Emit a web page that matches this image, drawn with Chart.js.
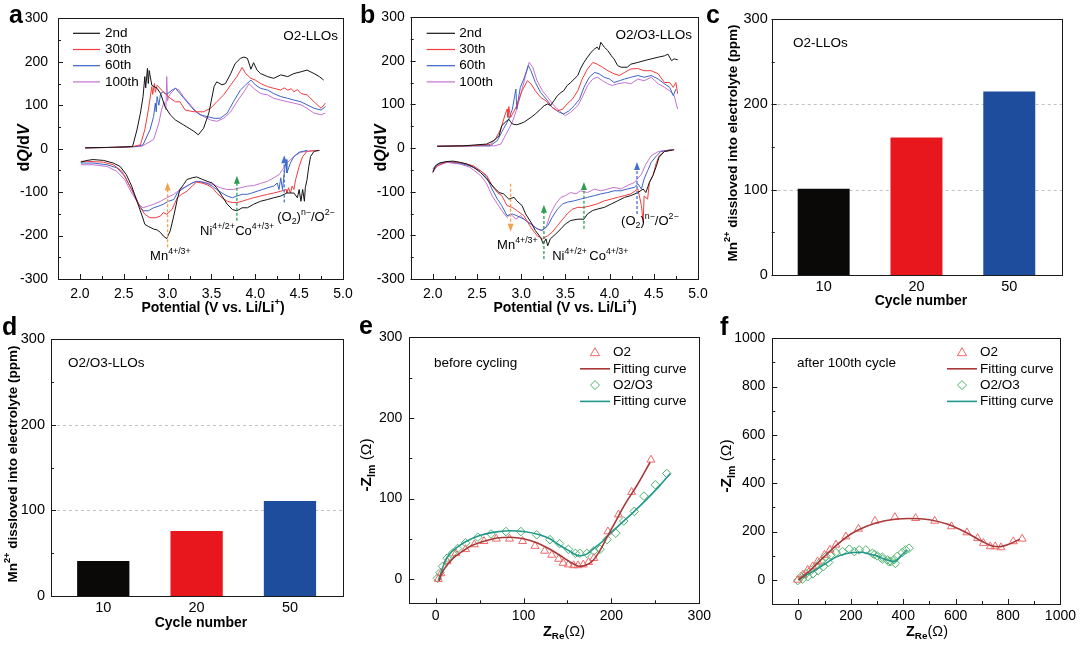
<!DOCTYPE html>
<html><head><meta charset="utf-8">
<script src="https://cdn.jsdelivr.net/npm/chart.js@4.4.1/dist/chart.umd.min.js"></script>
<style>
html,body{margin:0;padding:0;background:#fff;}
#wrap{position:relative;width:1080px;height:647px;overflow:hidden;background:#fff;}
#wrap canvas{position:absolute;left:0;top:0;width:1080px;height:647px;}
</style></head><body><div id="wrap">
<canvas id="pa" width="1080" height="647"></canvas>
<canvas id="pb" width="1080" height="647"></canvas>
<canvas id="pc" width="1080" height="647"></canvas>
<canvas id="pd" width="1080" height="647"></canvas>
<canvas id="pe" width="1080" height="647"></canvas>
<canvas id="pf" width="1080" height="647"></canvas>
</div>
<script>
// ---------------- DATA ----------------
const seriesNames = ['2nd', '30th', '60th', '100th'];
const potTicks = [2.0, 2.5, 3.0, 3.5, 4.0, 4.5, 5.0];
const dqTicks = [-300, -200, -100, 0, 100, 200, 300];

// panel a (O2-LLOs) : [potential V, dQ/dV]
const aChg2nd = [[2.06,2],[2.30,3],[2.50,4],[2.60,5],[2.65,43],[2.69,82],[2.72,120],[2.74,166],[2.75,140],[2.77,185],[2.78,150],[2.79,180],[2.82,146],[2.88,139],[2.92,127],[2.97,97],[3.03,78],[3.09,66],[3.18,55],[3.30,40],[3.35,32],[3.41,47],[3.47,82],[3.53,143],[3.56,154],[3.62,147],[3.66,150],[3.72,173],[3.77,196],[3.83,208],[3.87,211],[3.91,208],[3.95,183],[3.98,198],[4.02,181],[4.06,173],[4.14,166],[4.21,162],[4.29,170],[4.37,166],[4.44,173],[4.52,177],[4.59,181],[4.67,173],[4.73,166],[4.78,158]];
const aChg30th = [[2.06,2],[2.40,3],[2.60,5],[2.69,9],[2.74,44],[2.78,89],[2.82,143],[2.83,125],[2.85,150],[2.86,130],[2.88,146],[2.95,131],[3.03,116],[3.09,108],[3.14,108],[3.20,89],[3.30,85],[3.41,85],[3.49,93],[3.56,108],[3.64,124],[3.72,147],[3.79,166],[3.85,187],[3.89,173],[3.95,162],[4.00,158],[4.06,150],[4.14,143],[4.21,139],[4.29,135],[4.33,140],[4.37,135],[4.41,138],[4.44,131],[4.48,136],[4.52,127],[4.59,124],[4.67,108],[4.75,93],[4.80,105]];
const aChg60th = [[2.06,2],[2.40,3],[2.65,5],[2.72,9],[2.80,44],[2.84,74],[2.86,105],[2.87,85],[2.88,120],[2.90,100],[2.92,127],[2.95,131],[2.99,125],[3.05,135],[3.09,139],[3.14,127],[3.22,108],[3.30,89],[3.37,78],[3.45,74],[3.53,70],[3.60,70],[3.68,82],[3.75,108],[3.83,135],[3.89,147],[3.95,158],[4.00,147],[4.06,139],[4.14,135],[4.21,127],[4.29,120],[4.37,116],[4.44,112],[4.52,108],[4.59,101],[4.67,93],[4.75,89],[4.80,97]];
const aChg100th = [[2.06,2],[2.40,3],[2.70,5],[2.84,21],[2.90,59],[2.93,89],[2.96,108],[2.98,90],[2.99,166],[3.00,110],[3.01,120],[3.05,131],[3.09,139],[3.13,135],[3.18,120],[3.26,101],[3.33,85],[3.41,74],[3.49,66],[3.56,63],[3.64,70],[3.72,85],[3.79,108],[3.87,131],[3.93,150],[3.98,139],[4.06,127],[4.14,124],[4.21,116],[4.29,112],[4.37,108],[4.44,105],[4.52,101],[4.59,93],[4.67,82],[4.75,78],[4.80,82]];
const aDis2nd = [[2.01,-31],[2.08,-27],[2.15,-25],[2.27,-27],[2.38,-33],[2.46,-41],[2.53,-60],[2.59,-86],[2.65,-121],[2.71,-155],[2.74,-174],[2.78,-179],[2.84,-185],[2.88,-187],[2.92,-193],[2.95,-201],[2.99,-207],[3.03,-189],[3.07,-155],[3.11,-117],[3.14,-94],[3.18,-83],[3.22,-71],[3.28,-67],[3.33,-65],[3.39,-70],[3.45,-75],[3.51,-79],[3.56,-90],[3.62,-109],[3.68,-128],[3.74,-140],[3.79,-143],[3.85,-136],[3.91,-136],[3.98,-128],[4.06,-121],[4.14,-117],[4.21,-113],[4.29,-109],[4.36,-102],[4.44,-102],[4.48,-113],[4.50,-94],[4.52,-121],[4.54,-94],[4.56,-121],[4.57,-90],[4.59,-71],[4.61,-41],[4.63,-18],[4.67,-6],[4.73,-4]];
const aDis30th = [[2.01,-29],[2.08,-29],[2.27,-31],[2.38,-37],[2.48,-52],[2.55,-79],[2.63,-109],[2.69,-136],[2.74,-151],[2.80,-159],[2.86,-159],[2.92,-155],[2.95,-147],[2.99,-151],[3.05,-140],[3.11,-113],[3.16,-105],[3.22,-98],[3.28,-86],[3.33,-77],[3.39,-79],[3.45,-83],[3.51,-90],[3.56,-102],[3.62,-113],[3.68,-121],[3.74,-124],[3.79,-124],[3.85,-121],[3.91,-117],[3.98,-113],[4.06,-109],[4.14,-105],[4.21,-102],[4.29,-98],[4.35,-94],[4.36,-102],[4.38,-90],[4.40,-102],[4.42,-86],[4.44,-94],[4.46,-71],[4.50,-41],[4.54,-18],[4.59,-6],[4.73,-4]];
const aDis60th = [[2.01,-33],[2.15,-33],[2.31,-37],[2.42,-44],[2.51,-63],[2.59,-94],[2.67,-128],[2.72,-143],[2.78,-143],[2.84,-136],[2.90,-132],[2.95,-128],[3.01,-121],[3.07,-117],[3.11,-102],[3.16,-94],[3.22,-86],[3.28,-79],[3.33,-75],[3.39,-77],[3.45,-80],[3.51,-86],[3.56,-94],[3.62,-102],[3.68,-109],[3.74,-113],[3.79,-109],[3.85,-105],[3.91,-105],[3.96,-102],[4.02,-98],[4.08,-94],[4.14,-90],[4.21,-86],[4.25,-79],[4.27,-94],[4.29,-67],[4.31,-94],[4.33,-56],[4.35,-25],[4.36,-56],[4.40,-33],[4.44,-18],[4.50,-8],[4.59,-4]];
const aDis100th = [[2.01,-37],[2.15,-37],[2.31,-41],[2.42,-52],[2.51,-71],[2.59,-102],[2.67,-128],[2.72,-136],[2.78,-132],[2.84,-128],[2.92,-121],[2.99,-113],[3.07,-105],[3.14,-94],[3.22,-86],[3.30,-77],[3.37,-75],[3.45,-79],[3.53,-83],[3.60,-90],[3.68,-94],[3.75,-94],[3.83,-90],[3.91,-86],[3.98,-85],[4.06,-80],[4.14,-75],[4.21,-67],[4.27,-60],[4.31,-48],[4.36,-33],[4.44,-18],[4.52,-8],[4.67,-4]];

// panel b (O2/O3-LLOs)
const bChg2nd = [[2.05,4],[2.35,5],[2.61,9],[2.69,17],[2.75,28],[2.78,51],[2.82,59],[2.86,66],[2.88,60],[2.90,55],[2.95,53],[3.03,59],[3.11,70],[3.16,78],[3.22,89],[3.26,97],[3.30,101],[3.33,97],[3.37,108],[3.41,120],[3.45,127],[3.48,131],[3.52,143],[3.56,150],[3.60,158],[3.64,166],[3.67,181],[3.71,196],[3.75,208],[3.79,219],[3.83,227],[3.86,231],[3.88,225],[3.90,242],[3.94,231],[3.98,223],[4.02,211],[4.05,204],[4.09,189],[4.13,185],[4.20,185],[4.24,192],[4.32,196],[4.39,200],[4.47,204],[4.55,208],[4.62,211],[4.66,215],[4.70,200],[4.73,204],[4.77,202]];
const bChg30th = [[2.05,4],[2.40,5],[2.65,8],[2.71,21],[2.77,44],[2.82,78],[2.84,89],[2.85,70],[2.86,95],[2.88,70],[2.92,85],[2.95,97],[3.01,131],[3.07,154],[3.11,147],[3.16,131],[3.22,116],[3.30,105],[3.35,93],[3.41,85],[3.47,89],[3.52,101],[3.58,112],[3.64,131],[3.69,158],[3.75,181],[3.81,196],[3.86,192],[3.92,185],[3.98,177],[4.05,170],[4.11,166],[4.17,173],[4.24,181],[4.32,182],[4.39,177],[4.47,177],[4.55,170],[4.62,150],[4.68,150],[4.72,139],[4.75,150],[4.77,124]];
const bChg60th = [[2.05,4],[2.45,5],[2.65,5],[2.73,17],[2.80,44],[2.86,66],[2.90,89],[2.94,135],[2.95,89],[2.99,139],[3.03,158],[3.08,189],[3.11,177],[3.16,150],[3.22,127],[3.30,108],[3.35,93],[3.43,82],[3.48,78],[3.54,85],[3.60,97],[3.66,112],[3.71,139],[3.77,162],[3.83,173],[3.88,170],[3.94,162],[4.00,158],[4.05,150],[4.11,154],[4.17,158],[4.24,162],[4.32,166],[4.39,162],[4.47,166],[4.55,158],[4.62,147],[4.68,139],[4.72,120],[4.75,135]];
const bChg100th = [[2.05,4],[2.50,5],[2.70,5],[2.77,9],[2.84,36],[2.90,59],[2.95,89],[3.01,135],[3.05,166],[3.09,196],[3.13,185],[3.18,154],[3.24,131],[3.30,116],[3.37,97],[3.45,82],[3.50,74],[3.56,82],[3.64,97],[3.69,116],[3.75,143],[3.81,158],[3.86,162],[3.92,154],[3.98,147],[4.03,143],[4.09,147],[4.17,150],[4.24,147],[4.32,158],[4.39,154],[4.47,162],[4.55,147],[4.62,139],[4.68,131],[4.73,120],[4.77,89]];
const bDis2nd = [[2.00,-56],[2.03,-41],[2.08,-34],[2.16,-31],[2.23,-30],[2.31,-33],[2.39,-37],[2.46,-44],[2.54,-56],[2.61,-71],[2.69,-90],[2.75,-102],[2.80,-105],[2.86,-117],[2.92,-113],[2.95,-121],[3.01,-132],[3.05,-151],[3.11,-170],[3.16,-189],[3.22,-205],[3.25,-220],[3.28,-208],[3.30,-224],[3.33,-208],[3.39,-197],[3.45,-185],[3.50,-174],[3.56,-166],[3.64,-163],[3.71,-163],[3.75,-151],[3.81,-143],[3.86,-140],[3.94,-136],[4.02,-128],[4.09,-121],[4.17,-113],[4.24,-109],[4.32,-102],[4.38,-94],[4.41,-102],[4.45,-79],[4.49,-63],[4.53,-41],[4.56,-21],[4.62,-8],[4.73,-4]];
const bDis30th = [[2.00,-52],[2.05,-41],[2.16,-31],[2.31,-33],[2.39,-37],[2.46,-41],[2.54,-52],[2.61,-63],[2.67,-86],[2.73,-102],[2.78,-109],[2.84,-132],[2.90,-136],[2.95,-143],[3.03,-155],[3.11,-182],[3.18,-201],[3.24,-208],[3.30,-201],[3.35,-193],[3.41,-178],[3.47,-163],[3.52,-151],[3.58,-140],[3.64,-136],[3.71,-136],[3.79,-132],[3.86,-128],[3.94,-121],[4.02,-117],[4.09,-113],[4.17,-109],[4.24,-105],[4.32,-94],[4.36,-132],[4.38,-170],[4.39,-110],[4.43,-117],[4.45,-79],[4.49,-63],[4.53,-33],[4.56,-18],[4.62,-8],[4.73,-4]];
const bDis60th = [[2.00,-48],[2.05,-37],[2.16,-31],[2.31,-35],[2.42,-41],[2.54,-52],[2.61,-67],[2.67,-94],[2.73,-117],[2.78,-132],[2.84,-155],[2.90,-151],[2.95,-155],[3.03,-163],[3.11,-174],[3.18,-185],[3.24,-189],[3.30,-178],[3.35,-159],[3.41,-140],[3.47,-128],[3.52,-124],[3.60,-121],[3.67,-117],[3.75,-113],[3.83,-109],[3.90,-105],[3.98,-102],[4.05,-98],[4.13,-98],[4.20,-94],[4.28,-90],[4.32,-82],[4.36,-94],[4.39,-71],[4.43,-52],[4.47,-33],[4.53,-18],[4.58,-8],[4.70,-4]];
const bDis100th = [[2.00,-56],[2.05,-41],[2.16,-33],[2.31,-37],[2.42,-44],[2.54,-63],[2.61,-82],[2.67,-109],[2.73,-128],[2.78,-143],[2.84,-159],[2.88,-151],[2.94,-163],[2.99,-155],[3.05,-166],[3.11,-174],[3.16,-182],[3.22,-189],[3.28,-182],[3.33,-151],[3.39,-128],[3.45,-113],[3.50,-109],[3.56,-102],[3.62,-105],[3.67,-98],[3.75,-102],[3.83,-94],[3.90,-98],[3.98,-94],[4.05,-90],[4.13,-94],[4.20,-86],[4.28,-79],[4.36,-60],[4.41,-37],[4.47,-18],[4.55,-8],[4.70,-4]];

// panels c, d : Mn2+ dissolved (ppm)
const cycles = ['10', '20', '50'];
const mnTicks = [0, 100, 200, 300];
const cMnO2 = [101, 161, 215];
const dMnO2O3 = [41, 76, 111];

// panels e, f : EIS Nyquist [Z_Re, -Z_Im]
const eisNames = ['O2', 'Fitting curve', 'O2/O3', 'Fitting curve'];
const eTicks = [0, 100, 200, 300];
const fTicks = [0, 200, 400, 600, 800, 1000];
const eO2Pts = [[3,0],[6,7],[13,22],[23,32],[34,37],[44,43],[55,47],[69,50],[84,50],[99,47],[113,41],[124,35],[132,30],[140,25],[145,20],[151,18],[157,17],[162,17],[168,18],[174,21],[180,26],[196,59],[208,80],[223,108],[245,148]];
const eO2Fit = [[4,-2],[6,5],[10,13],[20,26],[30,34],[40,41],[55,47],[70,51],[85,52],[100,50],[115,45],[130,37],[145,27],[155,20],[163,16],[170,17],[177,21],[185,32],[195,52],[205,72],[215,92],[230,118],[244,145]];
const eO3Pts = [[2,1],[5,8],[8,16],[13,26],[19,32],[25,38],[34,45],[48,52],[63,56],[80,59],[97,59],[115,55],[130,49],[141,44],[151,37],[159,32],[164,32],[172,32],[180,35],[187,37],[195,49],[205,57],[214,72],[226,84],[237,103],[250,117],[263,131]];
const eO3Fit = [[3,-2],[6,8],[10,20],[15,30],[25,40],[35,47],[50,54],[65,58],[84,60],[100,59],[118,55],[130,50],[141,42],[152,35],[163,29],[172,31],[180,38],[190,47],[199,57],[212,70],[226,84],[240,99],[255,116],[267,131]];
const fO2Pts = [[-3,0],[17,21],[35,41],[54,55],[73,76],[99,103],[120,124],[143,145],[181,179],[229,211],[292,244],[368,259],[447,255],[520,244],[584,221],[643,196],[684,172],[706,152],[732,138],[751,138],[773,134],[820,159],[854,170]];
const fO2Fit = [[0,0],[50,45],[100,98],[150,148],[200,190],[260,222],[330,245],[420,254],[500,249],[570,230],[640,196],[700,160],[740,140],[765,137],[800,146],[845,168]];
const fO3Pts = [[-3,-3],[10,14],[29,25],[48,39],[67,55],[86,76],[105,97],[124,103],[143,113],[168,117],[194,127],[213,117],[232,124],[257,124],[282,110],[301,99],[320,94],[339,83],[352,76],[365,83],[377,97],[396,113],[409,124],[422,131],[15,3],[35,13],[55,25],[75,38],[95,55],[115,72],[290,105],[320,86],[345,75],[370,68]];
const fO3Fit = [[0,0],[30,20],[60,38],[100,65],[143,94],[180,108],[207,113],[240,114],[270,107],[300,99],[320,89],[345,80],[365,76],[390,98],[415,124]];

// annotation arrows [potential, from dQ/dV, to dQ/dV]
const aArrows = [[3.00,-227,-78],[3.79,-166,-62],[4.33,-124,-15]];
const bArrows = [[2.88,-82,-192],[3.257,-254,-130],[3.71,-185,-78],[4.31,-151,-32]];

// ---------------- STYLE / HELPERS ----------------
const FAM = "'Liberation Sans', Arial, Helvetica, sans-serif";
Chart.defaults.font.family = FAM;
Chart.defaults.font.size = 14;
Chart.defaults.color = '#000';
const cycleColors = ['#141414', '#f23c3c', '#3b63c7', '#c472cf'];
const barColors = ['#0b0808', '#e8161d', '#1f4d9e'];
const ORANGE = '#f5a14c', GREEN = '#2f9c4f', BLUE = '#4272d2';
const O2C = '#f06868', O2FIT = '#a93838', O3C = '#4fb46c', O3FIT = '#21978b';

function rich(ctx, segs, x, y, o) {
  const size = o.size || 13;
  const parts = segs.map(([t, st]) => {
    st = st || '';
    const small = st.includes('^') || st.includes('_');
    const fs = small ? size * 0.68 : size;
    const bold = st.includes('n') ? false : (st.includes('b') || o.bold);
    const font = (st.includes('i') ? 'italic ' : '') + (bold ? 'bold ' : '') + fs.toFixed(1) + 'px ' + FAM;
    ctx.font = font;
    const dy = st.includes('^') ? -size * 0.38 : st.includes('_') ? size * 0.32 : 0;
    return { t, font, dy, w: ctx.measureText(t).width };
  });
  const total = parts.reduce((s, p) => s + p.w, 0);
  ctx.save();
  ctx.translate(x, y);
  if (o.rot) ctx.rotate(o.rot * Math.PI / 180);
  let cx = o.align === 'center' ? -total / 2 : o.align === 'right' ? -total : 0;
  ctx.fillStyle = o.color || '#000';
  ctx.textBaseline = o.base || 'middle';
  ctx.textAlign = 'left';
  for (const p of parts) { ctx.font = p.font; ctx.fillText(p.t, cx, p.dy); cx += p.w; }
  ctx.restore();
}

function drawArrow(ctx, x, y1, y2, color) {
  const dir = Math.sign(y2 - y1);
  ctx.save();
  ctx.strokeStyle = color; ctx.fillStyle = color; ctx.lineWidth = 1.3;
  ctx.setLineDash([3, 2]);
  ctx.beginPath(); ctx.moveTo(x, y1); ctx.lineTo(x, y2 - dir * 6); ctx.stroke();
  ctx.setLineDash([]);
  ctx.beginPath(); ctx.moveTo(x, y2); ctx.lineTo(x - 3, y2 - dir * 8); ctx.lineTo(x + 3, y2 - dir * 8); ctx.closePath(); ctx.fill();
  ctx.restore();
}

function marker(ctx, kind, x, y, color) {
  ctx.save(); ctx.strokeStyle = color; ctx.lineWidth = 1; ctx.beginPath();
  if (kind === 'tri') { ctx.moveTo(x, y - 4.8); ctx.lineTo(x + 4.6, y + 3.2); ctx.lineTo(x - 4.6, y + 3.2); }
  else { ctx.moveTo(x, y - 4.5); ctx.lineTo(x + 4.5, y); ctx.lineTo(x, y + 4.5); ctx.lineTo(x - 4.5, y); }
  ctx.closePath(); ctx.stroke(); ctx.restore();
}

const decorCfg = {};
const decor = {
  id: 'decor',
  beforeDatasetsDraw(chart) {
    const c = decorCfg[chart.canvas.id]; if (!c || !c.hGrid) return;
    const ctx = chart.ctx, { left, right } = chart.chartArea, ys = chart.scales.y;
    ctx.save(); ctx.strokeStyle = '#c2c2c2'; ctx.lineWidth = 1; ctx.setLineDash([3, 3]);
    c.hGrid.forEach(v => { const y = Math.round(ys.getPixelForValue(v)) + 0.5; ctx.beginPath(); ctx.moveTo(left, y); ctx.lineTo(right, y); ctx.stroke(); });
    ctx.restore();
  },
  afterDatasetsDraw(chart) {
    const c = decorCfg[chart.canvas.id]; if (!c) return;
    const ctx = chart.ctx, { left, right, top, bottom } = chart.chartArea;
    const xs = chart.scales.x, ys = chart.scales.y;
    ctx.save();
    ctx.strokeStyle = '#1a1a1a'; ctx.lineWidth = 1;
    ctx.strokeRect(Math.round(left) + 0.5, Math.round(top) + 0.5, Math.round(right - left), Math.round(bottom - top));
    const tickSet = (scale, major, step, horiz) => {
      const pts = [];
      if (step) { for (let k = Math.ceil(scale.min / step - 1e-9); k * step <= scale.max + 1e-9; k++) pts.push([k * step, 3]); }
      if (major) major.forEach(v => pts.push([v, 5]));
      pts.forEach(([v, len]) => {
        const p = Math.round(scale.getPixelForValue(v)) + 0.5;
        ctx.beginPath();
        if (horiz) { ctx.moveTo(p, bottom); ctx.lineTo(p, bottom - len); }
        else { ctx.moveTo(left, p); ctx.lineTo(left + len, p); }
        ctx.stroke();
      });
    };
    tickSet(xs, c.xMajor, c.xMinor, true);
    tickSet(ys, c.yMajor, c.yMinor, false);
    ctx.restore();
    (c.arrows || []).forEach(([v, q1, q2], i) => drawArrow(ctx, xs.getPixelForValue(v), ys.getPixelForValue(q1), ys.getPixelForValue(q2), c.arrowColors[i]));
    (c.texts || []).forEach(t => {
      const x = t.dx !== undefined ? xs.getPixelForValue(t.dx) : t.x;
      const y = t.dy !== undefined ? ys.getPixelForValue(t.dy) : t.y;
      rich(ctx, t.t, x, y, t);
    });
    if (c.legend) {
      const L = c.legend;
      L.items.forEach((it, i) => {
        const y = L.y0 + i * L.step;
        ctx.save();
        if (it.kind === 'line') {
          ctx.strokeStyle = it.color; ctx.lineWidth = it.w || 1.2;
          ctx.beginPath(); ctx.moveTo(L.x1, y); ctx.lineTo(L.x2, y); ctx.stroke();
        } else marker(ctx, it.kind, L.mx, y, it.color);
        ctx.restore();
        rich(ctx, [[it.label, '']], L.tx, y, { size: L.size || 13.5 });
      });
    }
  }
};

// scale boxes: y axis box spans from canvas left to plot left, x axis box from plot bottom to canvas bottom
function linAxis(min, max, ticks, fmt, pad, isX, font, boxSize) {
  return {
    type: 'linear', min, max, offset: false,
    afterBuildTicks: s => { s.ticks = ticks.map(v => ({ value: v })); },
    afterFit: s => { if (isX) s.height = boxSize; else s.width = boxSize; },
    grid: { display: false, drawTicks: false, tickLength: 0 }, border: { display: false },
    ticks: { autoSkip: false, maxRotation: 0, minRotation: 0, padding: pad, callback: fmt, font: { size: font || 14 }, color: '#000' }
  };
}
function opts(box, x, y) {
  return {
    responsive: false, animation: false, events: [], devicePixelRatio: 1,
    layout: { padding: { left: 0, top: box[1], right: 1080 - box[2], bottom: 0 } },
    plugins: { legend: { display: false }, tooltip: { enabled: false } },
    scales: { x, y }
  };
}
const pts = arr => arr.map(p => ({ x: p[0], y: p[1] }));

// ---------------- PANELS a, b ----------------
function dqPanel(id, box, chg, dis, pad) {
  const ds = [];
  chg.forEach((arr, i) => {
    ds.push({ data: pts(arr), borderColor: cycleColors[i], borderWidth: 1, pointRadius: 0, tension: 0, fill: false });
    ds.push({ data: pts(dis[i]), borderColor: cycleColors[i], borderWidth: 1, pointRadius: 0, tension: 0, fill: false });
  });
  return new Chart(document.getElementById(id), {
    type: 'line', data: { datasets: ds },
    options: opts(box,
      linAxis(1.75, 5.0, potTicks, v => v.toFixed(1), 7, true, 14, 647 - box[3]),
      linAxis(-300, 300, dqTicks, v => String(v), pad, false, 14, box[0])),
    plugins: [decor]
  });
}
const mnSeg = [['Mn', ''], ['4+/3+', '^']];
const niSeg = [['Ni', ''], ['4+/2+', '^']];
const coSeg = [['Co', ''], ['4+/3+', '^']];
const oxSeg = [['(O', ''], ['2', '_'], [')', ''], ['n\u2212', '^'], ['/O', ''], ['2\u2212', '^']];
const dqTitle = [['d', ''], ['Q', 'i'], ['/', ''], ['d', ''], ['V', 'i']];
const potTitle = [['Potential (V vs. Li/Li', ''], ['+', '^'], [')', '']];
const cycLegend = (x1, x2, tx) => ({ x1, x2, tx, y0: 33.3, step: 16.2, size: 13.5, items: seriesNames.map((n, i) => ({ kind: 'line', color: cycleColors[i], label: n })) });

decorCfg.pa = {
  xMajor: potTicks, xMinor: 0.25, yMajor: dqTicks, yMinor: 50,
  arrows: aArrows, arrowColors: [ORANGE, GREEN, BLUE],
  texts: [
    { t: [['a', '']], x: 9, y: 23, size: 25, bold: true, base: 'alphabetic' },
    { t: [['O2-LLOs', '']], x: 338, y: 36, size: 13.5, align: 'right' },
    { t: dqTitle, x: 25, y: 148, size: 16, bold: true, align: 'center', rot: -90 },
    { t: potTitle, x: 213, y: 308, size: 14, bold: true, align: 'center' },
    { t: mnSeg, dx: 2.80, dy: -248, size: 13 },
    { t: niSeg, dx: 3.37, dy: -190, size: 13 },
    { t: coSeg, dx: 3.77, dy: -190, size: 13 },
    { t: oxSeg, dx: 4.25, dy: -158, size: 13 }
  ],
  legend: cycLegend(73, 100, 105)
};
decorCfg.pb = {
  xMajor: potTicks, xMinor: 0.25, yMajor: dqTicks, yMinor: 50,
  arrows: bArrows, arrowColors: [ORANGE, GREEN, GREEN, BLUE],
  texts: [
    { t: [['b', '']], x: 360, y: 23, size: 25, bold: true, base: 'alphabetic' },
    { t: [['O2/O3-LLOs', '']], x: 692, y: 35, size: 13.5, align: 'right' },
    { t: dqTitle, x: 382, y: 148, size: 16, bold: true, align: 'center', rot: -90 },
    { t: potTitle, x: 565, y: 308, size: 14, bold: true, align: 'center' },
    { t: mnSeg, dx: 2.727, dy: -224, size: 13 },
    { t: niSeg, dx: 3.35, dy: -248, size: 13 },
    { t: coSeg, dx: 3.77, dy: -248, size: 13 },
    { t: oxSeg, dx: 4.13, dy: -168, size: 13 }
  ],
  legend: cycLegend(426.7, 455, 459.3)
};
dqPanel('pa', [58, 17, 343, 279], [aChg2nd, aChg30th, aChg60th, aChg100th], [aDis2nd, aDis30th, aDis60th, aDis100th], 10);
dqPanel('pb', [410.7, 17, 698, 279], [bChg2nd, bChg30th, bChg60th, bChg100th], [bDis2nd, bDis30th, bDis60th, bDis100th], 6);

// ---------------- PANELS c, d ----------------
function barPanel(id, box, vals, pad) {
  return new Chart(document.getElementById(id), {
    type: 'bar',
    data: { datasets: [{ data: vals.map((v, i) => ({ x: i, y: v })), backgroundColor: barColors, borderWidth: 0, barPercentage: 0.56, categoryPercentage: 1.0 }] },
    options: opts(box,
      linAxis(-0.56, 2.565, [0, 1, 2], v => cycles[v], 3, true, 14.5, 647 - box[3]),
      linAxis(0, 300, mnTicks, v => String(v), pad, false, 14.5, box[0])),
    plugins: [decor]
  });
}
const mnTitle = [['Mn', ''], ['2+', '^'], [' dissloved into electrolyte (ppm)', '']];
decorCfg.pc = {
  yMajor: mnTicks, yMinor: 50, hGrid: [100, 200],
  texts: [
    { t: [['c', '']], x: 706, y: 23, size: 25, bold: true, base: 'alphabetic' },
    { t: [['O2-LLOs', '']], x: 793, y: 43, size: 13.5 },
    { t: mnTitle, x: 733, y: 143, size: 13.5, bold: true, align: 'center', rot: -90 },
    { t: [['Cycle number', '']], x: 921, y: 301, size: 14, bold: true, align: 'center' }
  ]
};
decorCfg.pd = {
  yMajor: mnTicks, yMinor: 50, hGrid: [100, 200],
  texts: [
    { t: [['d', '']], x: 2, y: 335, size: 25, bold: true, base: 'alphabetic' },
    { t: [['O2/O3-LLOs', '']], x: 68, y: 363, size: 13.5 },
    { t: mnTitle, x: 13, y: 464, size: 13.5, bold: true, align: 'center', rot: -90 },
    { t: [['Cycle number', '']], x: 201, y: 623, size: 14, bold: true, align: 'center' }
  ]
};
barPanel('pc', [771.7, 19, 1061.7, 275], cMnO2, 4);
barPanel('pd', [51, 339.3, 342.7, 596], dMnO2O3, 6);

// ---------------- PANELS e, f ----------------
function eisPanel(id, box, min, max, ticks, o2p, o2f, o3p, o3f) {
  const ds = [
    { data: pts(o2f), borderColor: O2FIT, borderWidth: 1.6, pointRadius: 0, cubicInterpolationMode: 'monotone', fill: false },
    { data: pts(o3f), borderColor: O3FIT, borderWidth: 1.6, pointRadius: 0, cubicInterpolationMode: 'monotone', fill: false },
    { data: pts(o2p), showLine: false, pointStyle: 'triangle', pointRadius: 4.6, pointBorderColor: O2C, pointBackgroundColor: 'rgba(0,0,0,0)', pointBorderWidth: 1 },
    { data: pts(o3p), showLine: false, pointStyle: 'rectRot', pointRadius: 4.3, pointBorderColor: O3C, pointBackgroundColor: 'rgba(0,0,0,0)', pointBorderWidth: 1 }
  ];
  return new Chart(document.getElementById(id), {
    type: 'line', data: { datasets: ds },
    options: opts(box,
      linAxis(min, max, ticks, v => String(v), 4, true, 14, 647 - box[3]),
      linAxis(min, max, ticks, v => String(v), 7, false, 14, box[0])),
    plugins: [decor]
  });
}
const zimTitle = [['-', 'b'], ['Z', 'b'], ['Im', 'b_'], [' (\u03A9)', 'n']];
const zreTitle = [['Z', 'b'], ['Re', 'b_'], ['(\u03A9)', 'n']];
const eisLegend = (mx, x1, x2, tx) => ({ mx, x1, x2, tx, y0: 352.5, step: 16.3, size: 13.5, items: [
  { kind: 'tri', color: O2C, label: eisNames[0] },
  { kind: 'line', color: O2FIT, w: 1.6, label: eisNames[1] },
  { kind: 'dia', color: O3C, label: eisNames[2] },
  { kind: 'line', color: O3FIT, w: 1.6, label: eisNames[3] }] });
decorCfg.pe = {
  xMajor: eTicks, xMinor: 50, yMajor: eTicks, yMinor: 50,
  texts: [
    { t: [['e', '']], x: 359, y: 334, size: 25, bold: true, base: 'alphabetic' },
    { t: [['before cycling', '']], x: 434, y: 363, size: 13.5 },
    { t: zimTitle, x: 367, y: 465, size: 15.5, align: 'center', rot: -90 },
    { t: zreTitle, x: 564, y: 632, size: 14.5, align: 'center' }
  ],
  legend: eisLegend(595, 580, 610, 613)
};
decorCfg.pf = {
  xMajor: fTicks, xMinor: 100, yMajor: fTicks, yMinor: 100,
  texts: [
    { t: [['f', '']], x: 720, y: 335, size: 25, bold: true, base: 'alphabetic' },
    { t: [['after 100th cycle', '']], x: 797, y: 363, size: 13.5 },
    { t: zimTitle, x: 727, y: 466, size: 15.5, align: 'center', rot: -90 },
    { t: zreTitle, x: 927, y: 632, size: 14.5, align: 'center' }
  ],
  legend: eisLegend(962, 947, 977, 980)
};
eisPanel('pe', [409.3, 337.3, 699.3, 603.3], -30, 300, eTicks, eO2Pts, eO2Fit, eO3Pts, eO3Fit);
eisPanel('pf', [772.3, 338.3, 1062.3, 604], -100, 1000, fTicks, fO2Pts, fO2Fit, fO3Pts, fO3Fit);
</script></body></html>
